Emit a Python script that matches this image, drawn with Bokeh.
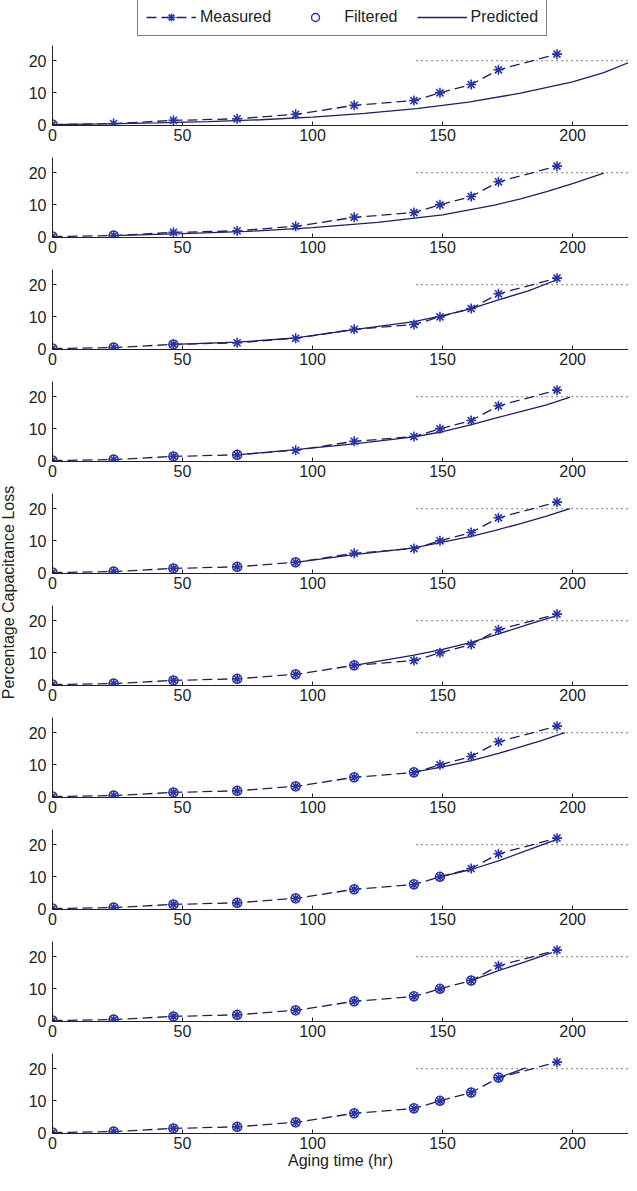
import math
from bokeh.plotting import figure
from bokeh.layouts import column, row
from bokeh.models import Range1d, FixedTicker, Legend, LegendItem
from bokeh.core.properties import value
from bokeh.embed import file_html
from bokeh.resources import INLINE

# ---------------- data ----------------
hours = [0, 23.5, 46.5, 71, 93.5, 116, 139, 149, 161, 171.5, 194]
measured = [0.0, 0.3, 1.3, 1.8, 3.2, 6.0, 7.5, 9.9, 12.5, 17.1, 22.0]
filtered = [0.0, 0.3, 1.3, 1.8, 3.2, 6.0, 7.6, 9.9, 12.5, 17.2]

pred_x_1 = [0, 20, 40, 60, 80, 100, 120, 140, 160, 180, 200, 212, 222]
pred_y_1 = [0.0, 0.2, 0.5, 0.9, 1.5, 2.3, 3.5, 5.0, 7.0, 9.8, 13.3, 16.2, 19.5]
pred_x_2 = [23.5, 50, 75, 100, 125, 150, 170, 180, 190, 200, 212]
pred_y_2 = [0.3, 0.9, 1.6, 2.8, 4.4, 6.8, 9.8, 11.8, 14.0, 16.5, 19.8]
pred_x_3 = [46.5, 71, 93.5, 116, 139, 150, 161, 171.5, 183, 194]
pred_y_3 = [1.3, 2.0, 3.3, 5.9, 8.4, 10.3, 12.5, 15.2, 18.0, 21.5]
pred_x_4 = [71, 93.5, 116, 139, 150, 160, 170, 180, 190, 199]
pred_y_4 = [1.8, 3.4, 5.2, 7.4, 9.0, 11.0, 13.2, 15.3, 17.4, 19.8]
pred_x_5 = [93.5, 116, 139, 150, 161, 170, 180, 190, 199]
pred_y_5 = [3.2, 5.6, 7.7, 9.5, 11.3, 13.1, 15.3, 17.6, 20.0]
pred_x_6 = [116, 139, 150, 161, 171.5, 183, 193]
pred_y_6 = [6.0, 9.2, 11.0, 13.2, 15.8, 18.8, 21.3]
pred_x_7 = [139, 150, 161, 171.5, 180, 188, 197]
pred_y_7 = [7.6, 9.3, 11.2, 13.5, 15.5, 17.5, 20.0]
pred_x_8 = [149, 161, 171.5, 183, 194]
pred_y_8 = [9.9, 12.2, 14.9, 18.3, 21.6]
pred_x_9 = [161, 171.5, 182, 192]
pred_y_9 = [12.5, 15.6, 18.4, 21.2]
pred_x_10 = [171.5, 177, 182]
pred_y_10 = [17.2, 18.7, 20.2]

pred_x = [pred_x_1, pred_x_2, pred_x_3, pred_x_4, pred_x_5,
          pred_x_6, pred_x_7, pred_x_8, pred_x_9, pred_x_10]
pred_y = [pred_y_1, pred_y_2, pred_y_3, pred_y_4, pred_y_5,
          pred_y_6, pred_y_7, pred_y_8, pred_y_9, pred_y_10]

threshold_x = [140, 222]
threshold_y = [20, 20]

x_ticks = [0, 50, 100, 150, 200]
y_ticks = [0, 10, 20]

x_label = "Aging time (hr)"
y_label = "Percentage Capacitance Loss"
legend_labels = ["Measured", "Filtered", "Predicted"]

# ---------------- style ----------------
FONT = "Liberation Sans"
FS = "16px"
LINE_C = "#1f1f62"
MARK_C = "#2b36a6"
TEXT_C = "#222222"
DASH = "10 5"

TOTAL_W = 628
YLAB_W = 24
PANEL_W = TOTAL_W - YLAB_W
PANEL_H = 112
LAST_H = 126
LEG_H = 41


def style_measured_line(fig, xs, ys):
    return fig.line(xs, ys, line_color=LINE_C, line_width=1.3, line_dash=DASH)


def style_measured_pts(fig, xs, ys):
    return fig.scatter(xs, ys, marker="asterisk", size=10,
                       line_color=MARK_C, line_width=1.6)


def style_filtered(fig, xs, ys):
    return fig.scatter(xs, ys, marker="circle", size=9, fill_color=None,
                       line_color=MARK_C, line_width=1.5)


def style_pred(fig, xs, ys):
    return fig.line(xs, ys, line_color=LINE_C, line_width=1.3)


panels = []
n = len(pred_x)
for k in range(n):
    last = (k == n - 1)
    p = figure(width=PANEL_W, height=LAST_H if last else PANEL_H,
               x_range=Range1d(0, 221.5), y_range=Range1d(-0.3, 24.7),
               output_backend="svg", toolbar_location=None,
               min_border_left=28, min_border_right=0, min_border_top=4,
               min_border_bottom=42 if last else 28)
    p.grid.visible = False
    p.outline_line_color = None
    p.background_fill_color = "white"
    p.border_fill_color = "white"

    p.xaxis.ticker = FixedTicker(ticks=x_ticks)
    p.yaxis.ticker = FixedTicker(ticks=y_ticks)
    for ax in (p.xaxis[0], p.yaxis[0]):
        ax.major_tick_in = 4
        ax.major_tick_out = 0
        ax.minor_tick_line_color = None
        ax.axis_line_color = "#222222"
        ax.major_tick_line_color = "#222222"
        ax.major_label_text_font = FONT
        ax.major_label_text_font_size = FS
        ax.major_label_text_color = TEXT_C
    p.xaxis.major_label_standoff = 3
    p.yaxis.major_label_standoff = 6
    if last:
        p.xaxis.axis_label = x_label
        p.xaxis.axis_label_text_font = FONT
        p.xaxis.axis_label_text_font_size = FS
        p.xaxis.axis_label_text_font_style = "normal"
        p.xaxis.axis_label_text_color = TEXT_C
        p.xaxis.axis_label_standoff = 0

    p.line(threshold_x, threshold_y, line_color="#333333", line_width=1.2,
           line_dash="1 4")
    style_measured_line(p, hours, measured)
    style_pred(p, pred_x[k], pred_y[k])
    style_measured_pts(p, hours, measured)
    style_filtered(p, hours[:k + 1], filtered[:k + 1])
    panels.append(p)

# y label figure
ylf = figure(width=YLAB_W, height=9 * PANEL_H + LAST_H,
             x_range=Range1d(0, YLAB_W), y_range=Range1d(0, 9 * PANEL_H + LAST_H),
             x_axis_type=None, y_axis_type=None, output_backend="svg",
             toolbar_location=None, min_border=0)
ylf.grid.visible = False
ylf.outline_line_color = None
ylf.text(x=[8], y=[583], text=[y_label], angle=math.pi / 2,
         text_align="center", text_baseline="middle",
         text_font=value(FONT), text_font_size=FS, text_color=TEXT_C)

# legend figure: same series drawn in a window that keeps them out of view,
# so only the legend box shows
lf = figure(width=TOTAL_W, height=LEG_H, x_range=Range1d(-1000, -999),
            y_range=Range1d(-1000, -999),
            x_axis_type=None, y_axis_type=None, output_backend="svg",
            toolbar_location=None, min_border=0)
lf.grid.visible = False
lf.outline_line_color = None
r_ml = style_measured_line(lf, hours, measured)
r_mp = style_measured_pts(lf, hours, measured)
r_f = style_filtered(lf, hours[:1], filtered[:1])
r_p = style_pred(lf, pred_x_1, pred_y_1)
legend = Legend(items=[LegendItem(label=legend_labels[0], renderers=[r_ml, r_mp]),
                       LegendItem(label=legend_labels[1], renderers=[r_f]),
                       LegendItem(label=legend_labels[2], renderers=[r_p])],
                location=(137, 5), orientation="horizontal",
                glyph_width=50, glyph_height=20, label_height=20,
                label_standoff=4, spacing=19, padding=8, margin=0,
                label_text_font=FONT, label_text_font_size=FS,
                label_text_color=TEXT_C, border_line_color="black",
                border_line_width=1, background_fill_color="white",
                background_fill_alpha=1.0)
lf.add_layout(legend, "center")

layout = column(lf, row(ylf, column(*panels)))

with open("out.html", "w") as f:
    f.write(file_html(layout, INLINE))
